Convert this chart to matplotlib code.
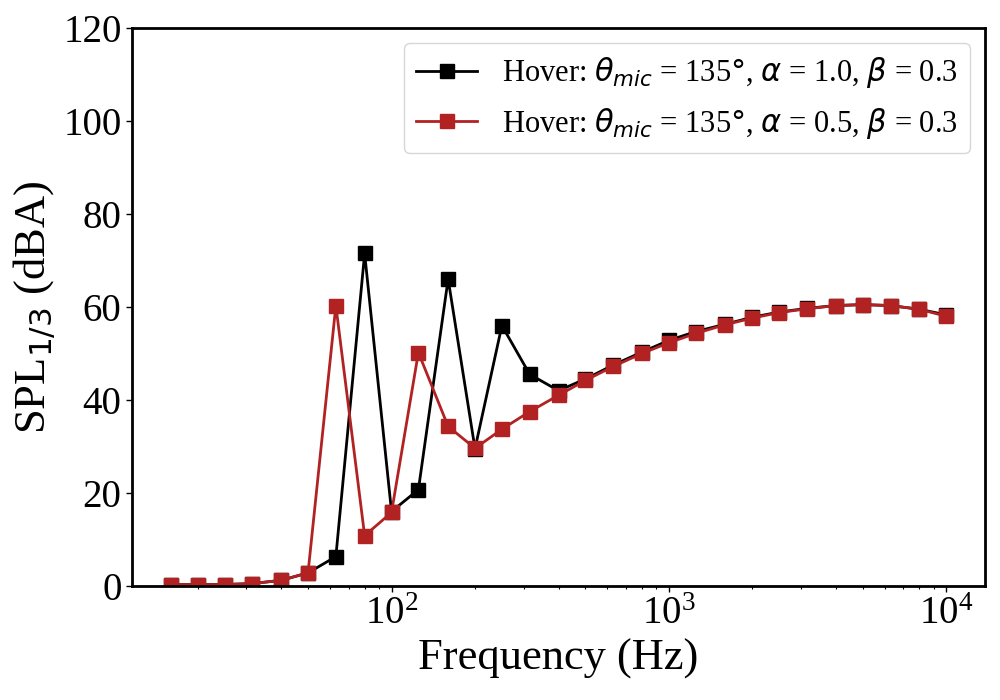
import numpy as np
import matplotlib
matplotlib.use("Agg")
from matplotlib import pyplot as plt

# 1/3 octave band centre frequencies (Hz)
freq = [16, 20, 25, 31.5, 40, 50, 63, 80, 100, 125, 160, 200, 250, 315, 400,
        500, 630, 800, 1000, 1250, 1600, 2000, 2500, 3150, 4000, 5000, 6300,
        8000, 10000]

# alpha = 1.0
spl_a10 = [0.3, 0.3, 0.3, 0.5, 1.2, 2.8, 6.3, 71.5, 16.0, 20.7, 66.0, 29.5,
           56.0, 45.5, 42.0, 44.5, 47.5, 50.3, 52.8, 54.7, 56.3, 57.8, 58.9,
           59.7, 60.3, 60.5, 60.3, 59.5, 58.3]

# alpha = 0.5
spl_a05 = [0.3, 0.3, 0.3, 0.5, 1.2, 2.8, 60.3, 10.8, 15.8, 50.2, 34.3, 29.6,
           33.7, 37.5, 41.0, 44.2, 47.2, 50.0, 52.3, 54.3, 56.2, 57.6, 58.8,
           59.6, 60.3, 60.5, 60.3, 59.5, 58.0]

labels = [r'Hover: $\theta_{mic}$ = 135$°$, $\alpha$ = 1.0, $\beta$ = 0.3',
          r'Hover: $\theta_{mic}$ = 135$°$, $\alpha$ = 0.5, $\beta$ = 0.3']

plt.rcParams['font.family'] = ['Liberation Serif', 'DejaVu Serif']

fig = plt.figure(figsize=(10, 7), dpi=100)
ax = fig.add_axes([0.132, 0.163, 0.853, 0.797])

ax.plot(freq, spl_a10, '-s', color='black', lw=2, ms=10.5, label=labels[0])
ax.plot(freq, spl_a05, '-s', color='#b22222', lw=2, ms=10.5, label=labels[1])

ax.set_xscale('log')
ax.set_ylim(0, 120)
ax.set_yticks(np.arange(0, 121, 20))

ax.set_xlabel('Frequency (Hz)', fontsize=32)
ax.set_ylabel(r'SPL$_{1/3}$ (dBA)', fontsize=32)
ax.tick_params(axis='both', labelsize=28, width=1, length=4)
ax.tick_params(axis='x', which='minor', width=0.8, length=2.5)
for s in ax.spines.values():
    s.set_linewidth(2)

ax.legend(loc='upper right', fontsize=22, framealpha=0.8)

fig.savefig('out.png', dpi=100)
